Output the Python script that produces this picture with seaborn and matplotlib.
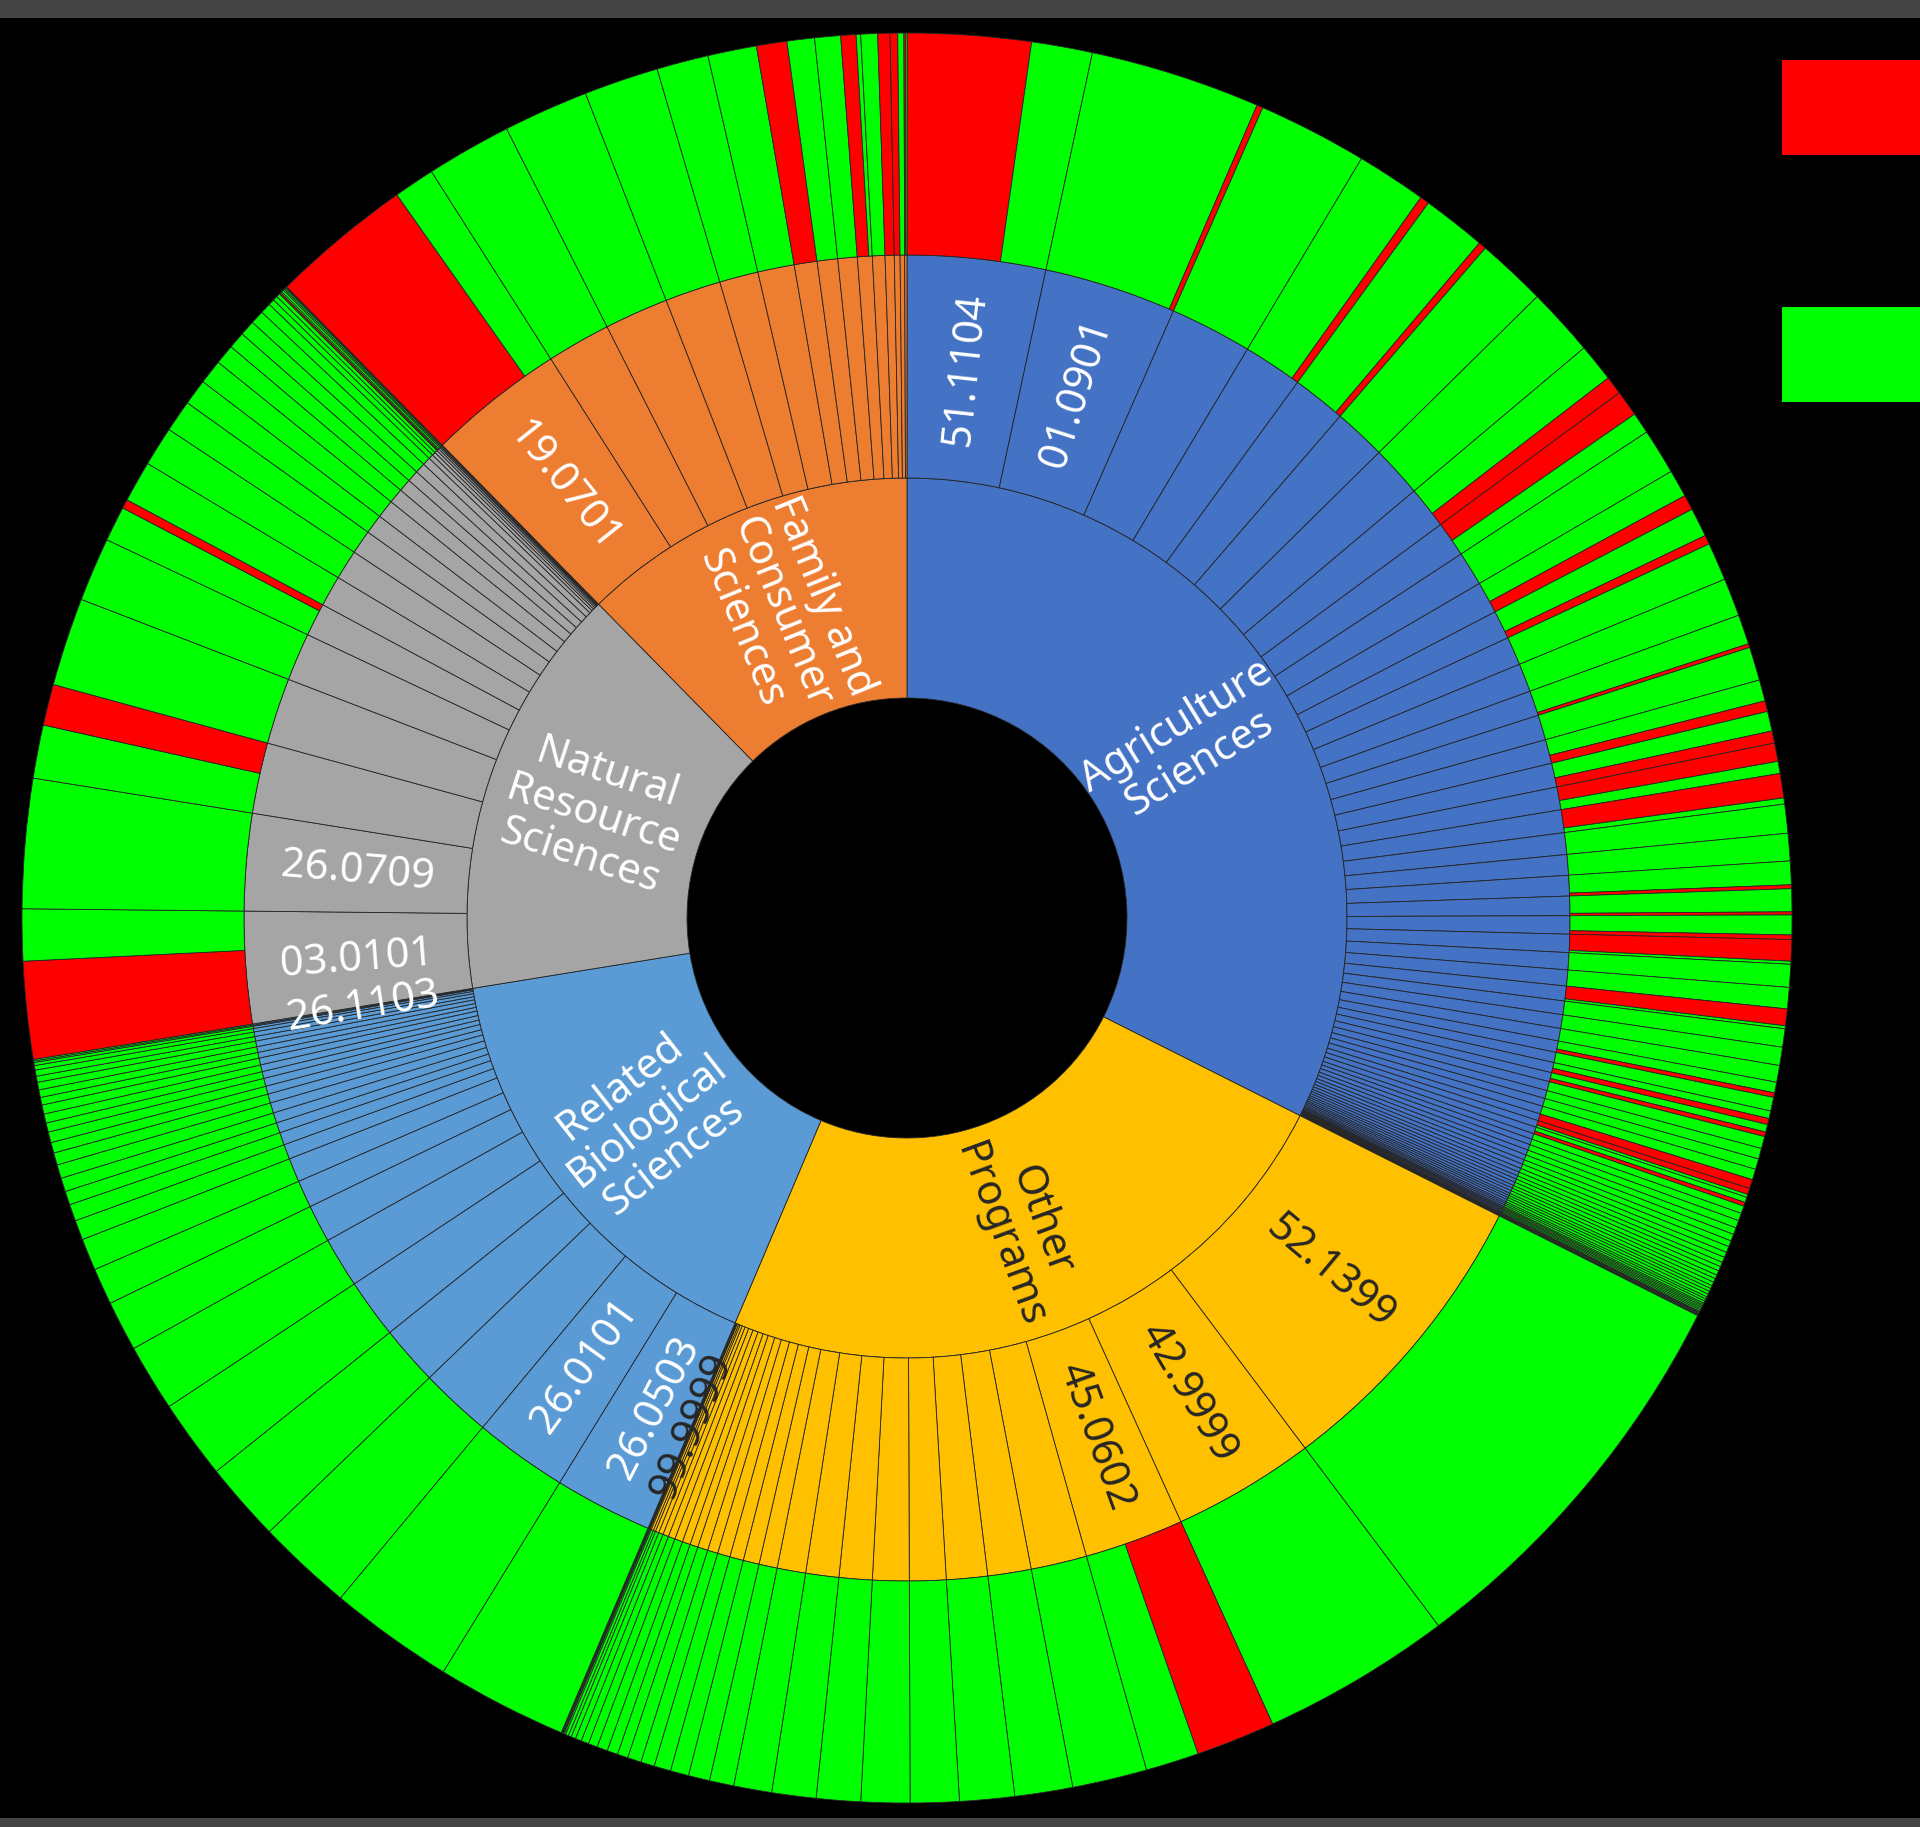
import numpy as np
import matplotlib
matplotlib.use("Agg")
import matplotlib.pyplot as plt
from matplotlib.patches import Rectangle
import seaborn as sns

# ---------------- data ----------------
categories = ["Agriculture Sciences", "Other Programs", "Related Biological Sciences",
              "Natural Resource Sciences", "Family and Consumer Sciences"]
category_text = ["Agriculture\nSciences", "Other\nPrograms", "Related\nBiological\nSciences",
                 "Natural\nResource\nSciences", "Family and\nConsumer\nSciences"]

# per program: share flagged red / green (outer ring); middle ring = red + green
ag_red = [8.1, 0.4, 0, 0.6, 0.5, 0, 0, 1.2, 1.7, 0, 1.0, 0.6, 0, 0, 0.25, 0, 0.7, 0.8, 1.2, 1.6,
          0, 0, 0.25, 0.2, 0.3, 1.4, 0, 0, 1.1, 0, 0, 0, 0.3, 0, 0.4, 0.3, 0, 0, 0, 0,
          0.6, 0.4, 0.25, 0, 0,
          0, 0, 0, 0, 0, 0, 0, 0, 0, 0, 0, 0, 0, 0, 0, 0, 0, 0, 0, 0, 0, 0, 0, 0, 0, 0,
          0, 0, 0, 0, 0, 0]
ag_green = [4.0, 11.2, 7.2, 4.6, 4.2, 4.6, 4.5, 2.5, 1.4, 3.0, 1.8, 1.9, 2.5, 2.5, 1.95, 2.2, 1.4, 1.3,
            0.8, 0.4, 1.9, 1.8, 1.55, 1.5, 1.3, 0.2, 1.5, 1.4, 0.2, 1.2, 1.2, 1.1, 0.7, 0.9, 0.5, 0.5,
            0.8, 0.7, 0.7, 0.7, 0.0, 0.2, 0.35, 0.5, 0.5,
            0.5, 0.45, 0.45, 0.4, 0.4, 0.35, 0.35, 0.3, 0.3, 0.3, 0.25, 0.25, 0.25, 0.2, 0.2, 0.2,
            0.2, 0.15, 0.15, 0.15, 0.1, 0.1, 0.1, 0.1, 0.1, 0.1, 0.05, 0.05, 0.05, 0.05, 0.05, 0.05]

other_red = [0, 0, 5.2, 0, 0, 0, 0, 0, 0, 0, 0, 0, 0, 0, 0, 0, 0, 0, 0, 0, 0, 0, 0, 0, 0, 0,
             0, 0, 0, 0, 0]
other_green = [26.4, 12.5, 3.5, 4.9, 3.8, 3.6, 3.2, 3.2, 2.9, 2.9, 2.5, 1.6, 1.4, 1.2, 1.1, 0.9,
               0.9, 0.7, 0.7, 0.7, 0.6, 0.5, 0.4, 0.3, 0.2, 0.2, 0.1, 0.05, 0.05, 0.05, 0.05]

bio_red = [0, 0, 0, 0, 0, 0, 0, 0, 0, 0, 0, 0, 0, 0, 0, 0, 0, 0, 0, 0, 0, 0, 0, 0, 0, 0, 0, 0, 0]
bio_green = [8.6, 8.2, 6.3, 5.2, 5.2, 4.4, 3.3, 2.4, 2.1, 1.3, 1.1, 0.9, 0.9, 0.9, 0.8, 0.7, 0.7,
             0.6, 0.6, 0.6, 0.5, 0.5, 0.5, 0.4, 0.4, 0.3, 0.2, 0.1, 0.1]

nat_red = [6.4, 0, 2.7, 0, 0, 0.6, 0, 0, 0, 0, 0, 0, 0, 0, 0, 0, 0, 0, 0, 0.1, 0, 0, 0, 0, 0]
nat_green = [3.4, 8.5, 3.5, 5.8, 4.2, 2.3, 2.7, 2.6, 2.1, 1.7, 1.6, 1.3, 1.1, 1.0, 0.9, 0.7, 0.4,
             0.3, 0.25, 0.1, 0.15, 0.1, 0.1, 0.05, 0.05]

fam_red = [9.3, 0, 0, 0, 0, 0, 2.0, 0, 0, 1.0, 0, 0.8, 0.5, 0, 0.1]
fam_green = [2.7, 5.6, 5.6, 4.9, 3.4, 3.2, 0, 1.8, 1.7, 0.3, 1.1, 0, 0, 0.4, 0.1]

# CIP codes that are labelled in the middle ring
ag_codes = ["51.1104", "01.0901"]
other_codes = ["52.1399", "42.9999", "45.0602"]
other_last_code = "99.9999"
bio_codes = ["26.0503", "26.0101"]
bio_last_code = "26.1103"
nat_codes = ["03.0101", "26.0709"]
fam_codes = ["19.0701"]

category_colors = ["#4472C4", "#FFC000", "#5B9BD5", "#A5A5A5", "#ED7D31"]
status_colors = {"Red": "#FF0000", "Green": "#00FF00"}

# ---------------- build the rings ----------------
groups = [(ag_red, ag_green), (other_red, other_green), (bio_red, bio_green),
          (nat_red, nat_green), (fam_red, fam_green)]
first_codes = [ag_codes, other_codes, bio_codes, nat_codes, fam_codes]
last_codes = [None, other_last_code, bio_last_code, None, None]

palette = sns.color_palette(category_colors)
inner_vals = []
mid_vals, mid_cols, mid_labels, mid_cat = [], [], [], []
outer_vals, outer_cols = [], []
for ci, (reds, greens) in enumerate(groups):
    total = 0.0
    n = len(reds)
    for i, (r, g) in enumerate(zip(reds, greens)):
        v = r + g
        mid_vals.append(v)
        mid_cols.append(palette[ci])
        lab = ""
        if i < len(first_codes[ci]):
            lab = first_codes[ci][i]
        elif i == n - 1 and last_codes[ci]:
            lab = last_codes[ci]
        mid_labels.append(lab)
        mid_cat.append(ci)
        kids = sorted([(r, "Red"), (g, "Green")], key=lambda k: -k[0])
        for kv, ks in kids:
            if kv > 0:
                outer_vals.append(kv)
                outer_cols.append(status_colors[ks])
        total += v
    inner_vals.append(total)

# ---------------- figure ----------------
sns.set_theme(style="white")
plt.rcParams["font.family"] = ["Noto Sans", "DejaVu Sans"]

W, H = 1920, 1827
fig = plt.figure(figsize=(W / 100, H / 100), dpi=100, facecolor="black")
cx, cy, R = 907, 918, 885
ax = fig.add_axes([(cx - R) / W, (H - cy - R) / H, 2 * R / W, 2 * R / H])
ax.set_facecolor("black")

r0, r1, r2, r3 = 220 / R, 440 / R, 663 / R, 1.0
wp = dict(edgecolor="#262626", linewidth=0.6)
common = dict(startangle=90, counterclock=False)

w_in, _ = ax.pie(inner_vals, radius=r1, colors=palette,
                 wedgeprops=dict(width=r1 - r0, **wp), **common)
w_mid, _ = ax.pie(mid_vals, radius=r2, colors=mid_cols,
                  wedgeprops=dict(width=r2 - r1, **wp), **common)
w_out, _ = ax.pie(outer_vals, radius=r3, colors=outer_cols,
                  wedgeprops=dict(width=r3 - r2, **wp), **common)


def place(wedge, rad, text, color, size=30):
    phi = 0.5 * (wedge.theta1 + wedge.theta2)
    x, y = rad * np.cos(np.radians(phi)), rad * np.sin(np.radians(phi))
    rot = (phi + 180) % 360 - 180
    if rot > 90:
        rot -= 180
    elif rot < -90:
        rot += 180
    ax.text(x, y, text, rotation=rot, rotation_mode="anchor", ha="center", va="center",
            color=color, fontsize=size, linespacing=1.05, multialignment="center")


dark = "#262626"
for ci, w in enumerate(w_in):
    place(w, (r0 + r1) / 2, category_text[ci], dark if ci == 1 else "white")

for w, lab, ci in zip(w_mid, mid_labels, mid_cat):
    if lab:
        place(w, (r1 + r2) / 2, lab, dark if ci == 1 else "white")

ax.set_xlim(-1, 1)
ax.set_ylim(-1, 1)
ax.axis("off")

# legend swatches (cut by the right edge in the reference)
fig.add_artist(Rectangle((1782 / W, 1 - 155 / H), (W - 1782) / W + 0.01, 95 / H,
                         transform=fig.transFigure, facecolor="#FF0000", edgecolor="none"))
fig.add_artist(Rectangle((1782 / W, 1 - 402 / H), (W - 1782) / W + 0.01, 95 / H,
                         transform=fig.transFigure, facecolor="#00FF00", edgecolor="none"))
# window bars
fig.add_artist(Rectangle((0, 1 - 18 / H), 1, 18 / H, transform=fig.transFigure,
                         facecolor="#444444", edgecolor="none"))
fig.add_artist(Rectangle((0, 0), 1, 9 / H, transform=fig.transFigure,
                         facecolor="#444444", edgecolor="none"))

fig.savefig("out.png", dpi=100, facecolor="black")
